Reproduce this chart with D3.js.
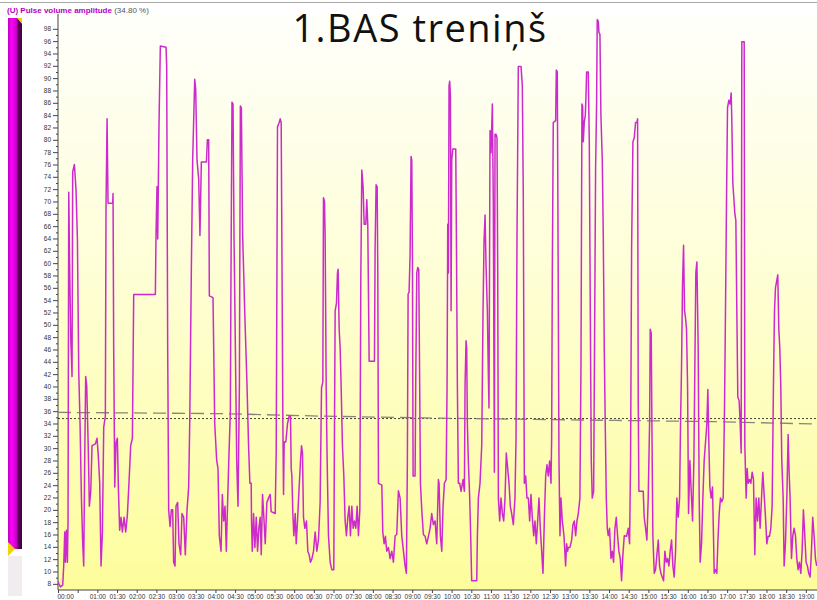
<!DOCTYPE html>
<html>
<head>
<meta charset="utf-8">
<script src="https://cdn.jsdelivr.net/npm/d3@7"></script>
<style>
body { margin: 0; background: #fff; }
svg { display: block; }
</style>
</head>
<body>
<div class="chart"></div>
<script>
// Pulse volume amplitude, time in minutes from start, value in %
const pvaTimes = [
  0, 1.1, 3.7, 7.2, 8.7, 10.3, 11.3, 12.8, 14.3, 15.3, 16.4, 17.9, 19.4, 21.4, 22.4, 25, 27.5, 29.6, 31.6, 33.6,
  35.7, 37.7, 39.2, 40.7, 42.2, 43.8, 44.8, 46.3, 47.8, 49.9, 51.9, 57, 59.5, 61.6, 63.6, 65.6, 67.7, 69.7, 72.2, 73.2,
  74.8, 76.3, 83.4, 83.9, 84.9, 86.5, 88.5, 90.5, 92, 94, 96.1, 98.1, 100.7, 103.2, 105.7, 108.3, 110.8, 113.4, 115.4, 148.4,
  149.4, 150.9, 152, 154, 156, 164.7, 165.7, 167.2, 168.7, 170.8, 172.8, 174.8, 176.3, 178.4, 179.9, 182.4, 184.4, 187, 189, 191.6,
  194.1, 196.7, 199.2, 200.8, 203.2, 205.3, 208.4, 209.9, 211.9, 214.5, 216.4, 218.5, 226.2, 227.7, 229.7, 230.7, 236.3, 238.9, 241.9, 243.9,
  245.9, 248.5, 250.5, 252.6, 254.6, 256.6, 258.7, 260.7, 262.7, 263.7, 265.2, 266.8, 268.3, 270.4, 272.4, 274.4, 276.5, 278, 279.5, 281.5,
  284.6, 288, 290.5, 292.5, 294.5, 295, 296.1, 298.1, 300.1, 302.2, 304.2, 306.2, 308.2, 309.8, 311.8, 313.8, 315.9, 318.4, 320.9, 323.5,
  325, 331.1, 332.6, 333.6, 334.6, 337.2, 338.7, 340.2, 341.2, 342.8, 343.8, 344.8, 347.3, 349.9, 352.4, 354.4, 355.5, 356.5, 358, 359.5,
  361.6, 363.1, 365.1, 367.6, 369.7, 371.2, 372.7, 374.2, 376.3, 378.8, 380.8, 382.9, 384.9, 386.9, 389.5, 392, 394.6, 397.1, 399.6, 401.7,
  403.7, 404.7, 406.2, 407.2, 408.8, 410.3, 412.3, 414.9, 417.4, 420.4, 421.5, 422.5, 424.5, 426, 427, 428.6, 430.1, 431.6, 433.6, 435.7,
  437.7, 439.7, 441.8, 443.8, 445.8, 447.9, 449.9, 451.9, 454, 456, 458, 460.1, 461.6, 463.1, 465.1, 466.7, 469.2, 470.7, 472.2, 474.3,
  482.4, 483.4, 484.9, 486.5, 487.5, 488.5, 493.6, 495.1, 497.1, 499.1, 501.2, 503.7, 506.2, 508.8, 511.3, 513.9, 516.4, 518.9, 521.5, 524,
  526.6, 529.1, 531.1, 532.6, 533.7, 535.2, 536.7, 538.2, 539.3, 540.3, 541.3, 544.3, 545.3, 546.9, 548.4, 549.9, 550.9, 552.5, 554.5, 557,
  559.6, 562.1, 564.6, 567.2, 569.7, 572.2, 574.8, 577.3, 579.9, 580.9, 582.9, 585, 587, 589, 591.6, 593.1, 594.1, 595.1, 596.1, 597.1,
  598.2, 599.2, 600.2, 601.7, 606.3, 607.3, 608.8, 610.3, 612.4, 614.4, 617.4, 619.5, 620.5, 622, 623, 624, 625.5, 627.6, 629.1, 630.6,
  638.3, 639.3, 640.8, 643.3, 645.9, 647.9, 649.4, 651, 652.5, 654.5, 656, 657, 658.6, 660.1, 662.1, 663.6, 665.2, 666.2, 667.7, 669.2,
  670.3, 671.3, 673.3, 675.3, 677.4, 679.4, 681.4, 683.4, 685.5, 687.5, 689.5, 691.6, 694.1, 696.6, 698.2, 699.7, 701.7, 705.8, 707.8, 709.3,
  710.9, 712.9, 714.9, 717, 719, 721, 723, 725.1, 727.1, 729.1, 731.2, 733.2, 735.2, 737.3, 739.3, 741.3, 743.4, 745.4, 747.4, 749.4,
  751.5, 752.5, 753.5, 755, 758.6, 759.6, 761.1, 762.1, 763.7, 765.2, 766.7, 768.7, 771.3, 773.8, 775.3, 776.9, 777.9, 780.4, 783, 785,
  787, 789.1, 791.1, 793.1, 795.6, 797.2, 798.7, 799.7, 800.7, 802.2, 803.8, 804.8, 805.8, 808.3, 809.9, 811.4, 812.9, 814.4, 816.5, 818,
  819.5, 821, 822, 823.6, 824.6, 826.1, 827.6, 829.7, 831.2, 832.7, 834.2, 835.8, 837.3, 838.8, 840.8, 842.9, 844.9, 846.9, 849, 851,
  853, 855, 857.1, 859.1, 861.1, 863.2, 866.7, 869.3, 871.3, 872.8, 874.4, 876.4, 878.4, 880.4, 882.5, 883.5, 884.5, 885.5, 892.1, 893.6,
  895.7, 897.7, 899.7, 901.8, 902.8, 904.3, 905.3, 906.8, 908.9, 910.9, 912.9, 915, 917, 919, 921.1, 923.1, 925.1, 927.2, 929.2, 931.2,
  933.2, 935.3, 937.3, 939.3, 941.4, 943.4, 945.4, 947.5, 949, 950.5, 952, 953.6, 955.1, 956.6, 958.1, 959.7, 961.2, 963.2, 965.2, 967.3,
  969.3, 970.8, 972.3, 973.9, 975.9, 977.4, 978.9, 981, 983, 985, 987.1, 989.1, 990.6, 992.1, 993.7, 995.7, 997.7, 999.2, 1000.3, 1002.3,
  1004.3, 1005.8, 1007.9, 1009.9, 1011.9, 1014, 1016, 1017.5, 1019.1, 1020.6, 1022.6, 1024.6, 1026.2, 1027.2, 1028.7, 1030.2, 1031.7, 1033.3, 1034.8, 1036.3,
  1038.3, 1039.9, 1041.4, 1042.4, 1046, 1047, 1049, 1050.5, 1052.1, 1054.1, 1056.1, 1058.2, 1060.2, 1062.2, 1064.2, 1066.3, 1068.3, 1070.3, 1072.4, 1074.4,
  1076.4, 1078.5, 1080.5, 1082.5, 1084.5, 1086.6, 1088.6, 1090.6, 1092.2, 1093.7, 1095.7, 1097.2, 1098.8, 1100.3, 1101.8, 1103.3, 1105.4, 1106.9, 1108.9, 1111,
  1113, 1114.5, 1116, 1118.1, 1120.1, 1122.1, 1124.2, 1126.2, 1128.2, 1130.2, 1132.3, 1134.3, 1136.3, 1138.4, 1140.4, 1142.4, 1144.4, 1146.5, 1148.5, 1150.5,
  1152.6, 1154.6, 1156.6
];
const pvaValues = [
  8.4, 8.1, 7.5, 7.8, 10.9, 16.4, 11.5, 16.7, 11.5, 18.2, 71.5, 58.4, 48, 41.6, 74.8, 76, 71.8, 63.9, 42.6, 34,
  21.9, 14.5, 10.9, 28, 41.6, 40.1, 35.8, 29.2, 20.6, 23, 30.4, 30.7, 31.6, 28.5, 24.3, 10.9, 16.4, 33.4, 35.2, 69.4,
  83.4, 69.7, 69.7, 71.3, 46.2, 23.7, 31, 31.6, 23.7, 16.7, 18.8, 16.4, 18.8, 16.4, 19.1, 24.6, 30.4, 31.6, 54.9, 54.9,
  64.5, 72.4, 63.9, 82.8, 95.2, 95, 91.9, 46.2, 20, 17.3, 20, 20, 11.5, 10.9, 20.6, 21.2, 14.5, 12.7, 19.4, 18.8,
  12.7, 20, 23.7, 34, 58.4, 76.7, 89.8, 88.2, 76.7, 73.6, 64.5, 76.4, 76.4, 80, 80, 54.7, 54.4, 34, 28, 26.7,
  15.8, 13.3, 22.5, 18.2, 20.6, 13.3, 21.9, 29.2, 35.8, 58.4, 86.1, 85.8, 64.5, 46.2, 28, 20.6, 40.1, 85.5, 85.2, 64.5,
  52.3, 40.7, 30.4, 24.3, 24.3, 18.2, 13.3, 19.4, 13.9, 18.8, 13.3, 17, 18.8, 12.7, 22.5, 18.8, 14.5, 21.2, 21.9, 22.5,
  19.7, 19.4, 29.2, 54.7, 82.1, 82.8, 83.4, 82.8, 64.5, 34, 22.5, 31, 31, 34, 35.2, 35.2, 26.7, 25.5, 19.4, 15.8,
  19.4, 14.5, 18.2, 23.7, 28, 30.4, 29.2, 18.8, 17, 18.2, 13.3, 12.7, 11.5, 12, 13.3, 16.4, 13.3, 15.2, 21.2, 39.8,
  40.7, 70.6, 70, 64.5, 40.1, 28, 15.8, 11.5, 10.3, 10.3, 34, 52.3, 53.5, 58.4, 59, 49.3, 46.2, 40.1, 30.4, 25.5,
  18.2, 15.8, 18.8, 20.6, 15.8, 20.6, 17, 18.2, 17, 20.6, 15.8, 20, 57.5, 75.1, 72.4, 66.3, 66.3, 70.3, 66.3, 44.1,
  44.1, 62.6, 72.7, 72.4, 58.4, 24.3, 24, 16.4, 14.5, 15.7, 13.3, 13.9, 12.1, 13.3, 11.5, 15.8, 16, 23.1, 21.9, 15.8,
  13.3, 10.9, 9.7, 28, 55, 55.3, 61.4, 77.3, 76.7, 60.8, 25.5, 25.5, 40.1, 58.4, 59.3, 59, 46.2, 24.3, 20, 16,
  15.7, 14.5, 15.7, 17, 19.4, 17.6, 18.2, 14.5, 24.9, 24.3, 15.8, 13.3, 20.6, 24.3, 24.9, 40.1, 66.3, 58.4, 88.8, 89.5,
  87, 52.3, 76.7, 78.5, 78.5, 64.5, 40.1, 24.3, 24.3, 23, 24.9, 23, 40.1, 47.4, 46.2, 34, 28, 21.9, 15.8, 8.5,
  8.5, 15.8, 21.9, 24.3, 30.4, 52.3, 63.3, 67.8, 59.6, 52.3, 42, 36.5, 81.5, 77.9, 85.8, 69.4, 26.1, 80.9, 80.9, 80.3,
  58.4, 21.9, 18.2, 21.9, 19.4, 18.2, 21.9, 29.2, 26.7, 24.3, 20.6, 19.4, 17.6, 21.9, 31.6, 64.5, 91.9, 91.9, 88.8, 70.6,
  24.3, 25.5, 21.9, 21.9, 18.2, 22.5, 18.8, 15.8, 18.2, 14.5, 18.2, 21.9, 17, 13.3, 9.7, 18.2, 25.5, 27.3, 25.5, 27.9,
  24.3, 31.6, 58.4, 82.8, 83.1, 91.3, 91, 67.5, 28, 15.8, 21.9, 18.2, 15.8, 10.9, 14.5, 13.3, 13.9, 13.9, 15.1, 17.6,
  18.2, 15.8, 18.2, 19.4, 21.9, 43.2, 85.8, 85.5, 79.7, 82.8, 84, 87, 91, 91, 79.7, 52.3, 28, 21.9, 23, 48.7,
  75.4, 85.8, 99.5, 99.2, 97.4, 97.1, 84, 76.7, 64.5, 46.2, 34, 21.9, 17, 15.8, 17, 12.1, 13.3, 11.5, 17, 18.8,
  15.8, 13.3, 12.1, 8.5, 12.7, 15.8, 15.7, 17, 14.5, 28, 62.6, 79.7, 80.3, 82.8, 82.8, 83.4, 37.7, 23, 23, 18.8,
  17, 15.1, 21.9, 34, 49.3, 48.7, 34, 15.8, 9.7, 10.3, 12.7, 15.1, 10.9, 9.7, 9.1, 8.5, 13.3, 11.5, 12.1, 10.9,
  13.3, 15.1, 10.9, 9.1, 13.3, 21.9, 18.8, 21.9, 34, 43.2, 56.6, 62.9, 52.3, 51.1, 49.3, 40.1, 19.4, 28, 23.1, 18.2,
  28, 43.2, 58.4, 60.2, 46.2, 21.9, 11.5, 14.5, 21.9, 28, 31, 34, 39.5, 31, 23.7, 21.9, 23.7, 15.8, 9.7, 10.3,
  9.7, 14.5, 19.4, 21.9, 21.3, 21.9, 36.5, 52.3, 70.6, 85.2, 86.4, 85.8, 87.6, 82.8, 73, 70.6, 68.1, 66.9, 52.3, 38.3,
  37.7, 34, 29.2, 95.9, 95.9, 30.4, 21.9, 26.7, 24.3, 24.9, 24.3, 26.1, 24.9, 12.7, 21.9, 18.2, 21.9, 17, 21.9, 26.1,
  22.5, 18.8, 14.5, 15.7, 15.7, 17, 20.6, 40.1, 52.3, 56, 57.2, 58.1, 49.3, 46.2, 40.1, 28, 21.9, 10.9, 14.5, 21.9,
  32.2, 26.1, 21.9, 12.1, 15.8, 17, 15.8, 12.1, 10.3, 11.5, 9.7, 13.3, 20, 15.8, 11.5, 10.9, 9.7, 9.1, 13.3, 18.8,
  15.8, 12.1, 10.9
];
// slow trend (dashed) and mean level (dotted)
const trendTimes = [0, 250, 400, 560, 700, 850, 1000, 1160];
const trendValues = [35.8, 35.6, 35.2, 34.9, 34.7, 34.5, 34.3, 33.9];
const meanValue = 34.8;

const yTickValues = d3.range(8, 99, 2);
const yMinorValues = d3.range(9, 99, 2);
const xTickTimes = d3.range(0, 1141, 30);

const width = 817, height = 600;
const svg = d3.select(".chart").append("svg")
    .attr("width", width)
    .attr("height", height);

const plot = { left: 58, right: 817, top: 14, bottom: 590 };

const x = d3.scaleLinear().domain([0, 1157]).range([plot.left, plot.right]);
const y = d3.scaleLinear().domain([7, 100.4]).range([plot.bottom, plot.top]);

const defs = svg.append("defs");
const bg = defs.append("linearGradient").attr("id", "bg")
    .attr("x1", 0).attr("y1", 0).attr("x2", 0).attr("y2", 1);
bg.append("stop").attr("offset", "0%").attr("stop-color", "#fffffb");
bg.append("stop").attr("offset", "45%").attr("stop-color", "#fefed6");
bg.append("stop").attr("offset", "100%").attr("stop-color", "#fdfd9c");

const bar = defs.append("linearGradient").attr("id", "bar")
    .attr("x1", 0).attr("y1", 0).attr("x2", 1).attr("y2", 0);
bar.append("stop").attr("offset", "0%").attr("stop-color", "#c000c0");
bar.append("stop").attr("offset", "25%").attr("stop-color", "#ff00ff");
bar.append("stop").attr("offset", "60%").attr("stop-color", "#c800c8");
bar.append("stop").attr("offset", "75%").attr("stop-color", "#5a005a");
bar.append("stop").attr("offset", "100%").attr("stop-color", "#3a003a");

defs.append("clipPath").attr("id", "clip")
    .append("rect")
    .attr("x", plot.left).attr("y", plot.top)
    .attr("width", plot.right - plot.left).attr("height", plot.bottom - plot.top);

// plot background
svg.append("rect")
    .attr("x", plot.left).attr("y", plot.top)
    .attr("width", plot.right - plot.left).attr("height", plot.bottom - plot.top)
    .attr("fill", "url(#bg)");

// top rule and header
svg.append("line")
    .attr("x1", 0).attr("x2", width).attr("y1", 2.5).attr("y2", 2.5)
    .attr("stroke", "#a8a8a8").attr("stroke-width", 1);

const header = svg.append("text")
    .attr("x", 7).attr("y", 13)
    .style("font-family", "Liberation Sans, Arial, sans-serif")
    .style("font-size", "8px");
header.append("tspan").attr("fill", "#b400c0").style("font-weight", "bold")
    .text("(U) Pulse volume amplitude ");
header.append("tspan").attr("fill", "#555").text("(34.80 %)");

// left colour bar
svg.append("rect").attr("x", 8).attr("y", 18).attr("width", 14).attr("height", 531)
    .attr("fill", "url(#bar)");
svg.append("path").attr("d", "M17,18 L22,18 L22,24 Z").attr("fill", "#f0d000");
svg.append("path").attr("d", "M8,542 L15,549 L8,556 Z").attr("fill", "#f2d200");
svg.append("rect").attr("x", 8).attr("y", 556).attr("width", 14).attr("height", 40)
    .attr("fill", "#f1ecf0");

// axes
const yAxis = svg.append("g")
    .attr("transform", `translate(${plot.left},0)`)
    .call(d3.axisLeft(y).tickValues(yTickValues).tickSize(5).tickPadding(2));
svg.append("g")
    .attr("transform", `translate(${plot.left},0)`)
    .call(d3.axisLeft(y).tickValues(yMinorValues).tickSize(2).tickFormat(""))
    .call(g => g.select(".domain").remove());
yAxis.select(".domain").attr("d", `M0,${plot.top}V${plot.bottom}`);

const xAxis = svg.append("g")
    .attr("transform", `translate(0,${plot.bottom})`)
    .call(d3.axisBottom(x).tickValues(xTickTimes).tickSize(3).tickPadding(1)
        .tickFormat(d => d === 30 ? "" : d3.format("02")(Math.floor(d / 60)) + ":" + d3.format("02")(d % 60)));
xAxis.select(".domain").attr("d", `M${plot.left},0H${plot.right}`);
xAxis.selectAll(".tick text").filter(d => d === 0).attr("text-anchor", "start").attr("dx", "-1");

svg.selectAll(".tick text")
    .style("font-family", "Liberation Sans, Arial, sans-serif")
    .style("font-size", "6.5px")
    .attr("fill", "#333");
svg.selectAll(".tick line").attr("stroke", "#444");
svg.selectAll(".domain").attr("stroke", "#444");

// reference lines
const g = svg.append("g").attr("clip-path", "url(#clip)");
g.append("line")
    .attr("x1", plot.left).attr("x2", plot.right)
    .attr("y1", y(meanValue)).attr("y2", y(meanValue))
    .attr("stroke", "#111").attr("stroke-width", 0.8)
    .attr("stroke-dasharray", "2,2");
g.append("path")
    .datum(d3.zip(trendTimes, trendValues))
    .attr("fill", "none")
    .attr("stroke", "#85857a")
    .attr("stroke-width", 1.3)
    .attr("stroke-dasharray", "13,6")
    .attr("d", d3.line().x(d => x(d[0])).y(d => y(d[1])));

// pulse volume amplitude trace
g.append("path")
    .datum(d3.zip(pvaTimes, pvaValues))
    .attr("fill", "none")
    .attr("stroke", "#cc2acc")
    .attr("stroke-width", 1.5)
    .attr("stroke-linejoin", "round")
    .attr("d", d3.line().x(d => x(d[0])).y(d => y(d[1])));

// title
svg.append("text")
    .attr("x", 420).attr("y", 42)
    .attr("text-anchor", "middle")
    .style("font-family", "'Open Sans', sans-serif")
    .style("font-size", "38px")
    .style("letter-spacing", "1.5px")
    .attr("fill", "#111")
    .text("1.BAS treniņš");
</script>
</body>
</html>
